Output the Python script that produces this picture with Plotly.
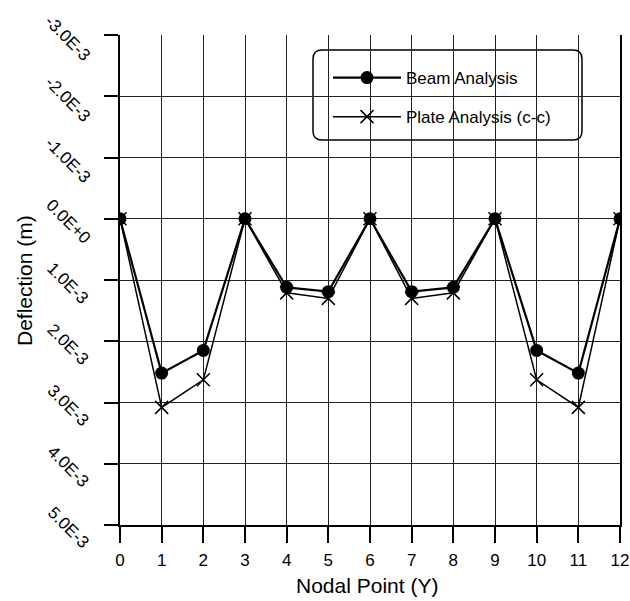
import plotly.graph_objects as go

nodes = list(range(13))
beam = [0.0, 2.52e-3, 2.15e-3, 0.0, 1.12e-3, 1.19e-3, 0.0, 1.19e-3, 1.12e-3, 0.0, 2.15e-3, 2.52e-3, 0.0]
plate = [0.0, 3.08e-3, 2.63e-3, 0.0, 1.21e-3, 1.30e-3, 0.0, 1.30e-3, 1.21e-3, 0.0, 2.63e-3, 3.08e-3, 0.0]

ytick_vals = [-3e-3, -2e-3, -1e-3, 0.0, 1e-3, 2e-3, 3e-3, 4e-3, 5e-3]
ytick_text = ["-3.0E-3", "-2.0E-3", "-1.0E-3", "0.0E+0", "1.0E-3", "2.0E-3", "3.0E-3", "4.0E-3", "5.0E-3"]

font = "Liberation Sans, Arial, sans-serif"

# plot area in pixels: x 120..620, y 35..525
L, R, T, B = 120, 620, 35, 525
W, H = R - L, B - T

def px(x):
    return (x - L) / W

def py(y):
    return (B - y) / H

fig = go.Figure()
fig.add_trace(go.Scatter(
    x=nodes, y=beam, mode="lines+markers", name="Beam Analysis",
    legendgroup="beam",
    line=dict(color="black", width=2.2),
    marker=dict(symbol="circle", size=13, color="black"),
))
fig.add_trace(go.Scatter(
    x=nodes, y=plate, mode="lines+markers", name="Plate Analysis (c-c)",
    legendgroup="plate",
    line=dict(color="black", width=1.5),
    marker=dict(symbol="x-thin", size=13, color="black", line=dict(color="black", width=1.5)),
))

# rounded legend box
x0, x1 = px(313), px(582)
y0, y1 = py(140), py(50)
rx, ry = 9 / W, 9 / H
path = (f"M {x0+rx},{y1} L {x1-rx},{y1} Q {x1},{y1} {x1},{y1-ry} "
        f"L {x1},{y0+ry} Q {x1},{y0} {x1-rx},{y0} L {x0+rx},{y0} "
        f"Q {x0},{y0} {x0},{y0+ry} L {x0},{y1-ry} Q {x0},{y1} {x0+rx},{y1} Z")

annotations = []
for v, t in zip(ytick_vals, ytick_text):
    annotations.append(dict(
        x=px(68), xref="paper", y=v, yref="y", text=t, showarrow=False,
        textangle=45, font=dict(size=17, family=font, color="black"),
        xanchor="center", yanchor="middle", yshift=-3,
    ))
annotations.append(dict(
    x=px(24), xref="paper", y=py(281), yref="paper", text="Deflection (m)",
    showarrow=False, textangle=-90, font=dict(size=21, family=font, color="black"),
    xanchor="center", yanchor="middle",
))
annotations.append(dict(
    x=px(367), xref="paper", y=py(585), yref="paper", text="Nodal Point (Y)",
    showarrow=False, font=dict(size=21, family=font, color="black"),
    xanchor="center", yanchor="middle",
))

fig.update_layout(
    width=630, height=601,
    margin=dict(l=L, r=630 - R, t=T, b=601 - B, autoexpand=False),
    paper_bgcolor="white", plot_bgcolor="white",
    font=dict(family=font, color="black"),
    showlegend=True,
    legend=dict(
        x=px(328), y=py(60), xanchor="left", yanchor="top",
        bgcolor="rgba(0,0,0,0)", borderwidth=0,
        font=dict(size=17, family=font),
        tracegroupgap=14, itemwidth=68,
    ),
    shapes=[dict(
        type="path", path=path, xref="paper", yref="paper",
        line=dict(color="black", width=1.5), fillcolor="white", layer="below",
    )],
    annotations=annotations,
)

fig.update_xaxes(
    range=[0, 12], tickvals=nodes, ticktext=[str(n) for n in nodes],
    showgrid=True, gridcolor="#222", gridwidth=1,
    showline=True, linecolor="black", linewidth=1.5,
    ticks="outside", ticklen=16, tickcolor="black", tickwidth=1.5,
    ticklabelstandoff=3,
    tickfont=dict(size=17, family=font),
    automargin=False, zeroline=False,
)
fig.update_yaxes(
    range=[5.0001e-3, -3.0001e-3], tickvals=ytick_vals,
    showticklabels=False,
    showgrid=True, gridcolor="#222", gridwidth=1,
    showline=True, mirror=True, linecolor="black", linewidth=1.5,
    ticks="outside", ticklen=14, tickcolor="black", tickwidth=1.5,
    automargin=False, zeroline=False,
)

fig.write_html("out.html", config={"displayModeBar": False},
               post_script="document.body.style.margin='0';")
